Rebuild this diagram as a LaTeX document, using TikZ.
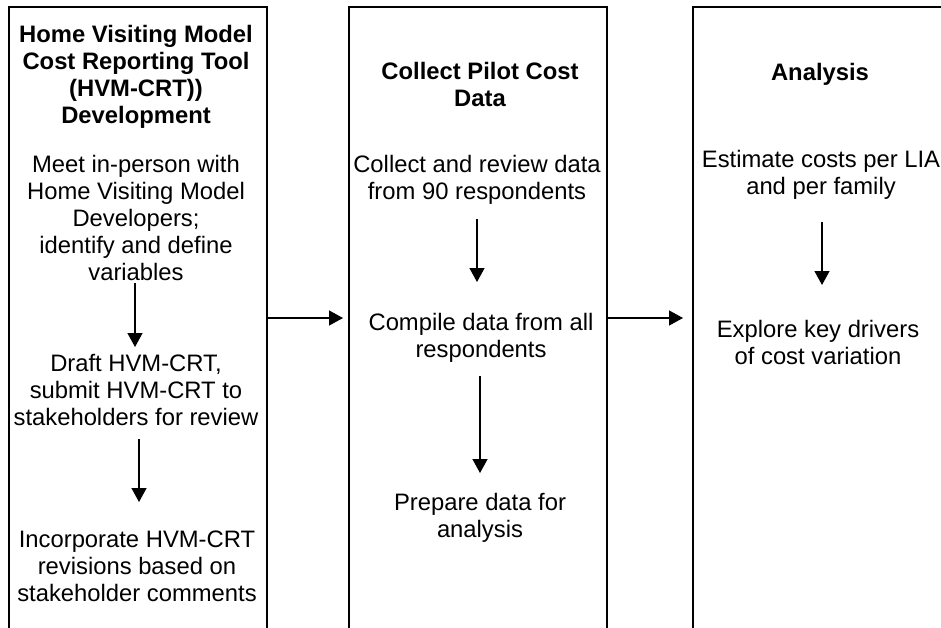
\documentclass[tikz,border=0pt]{standalone}
\usepackage{fontspec}
\setmainfont{Liberation Sans}
\usetikzlibrary{arrows.meta}
\newcommand{\blk}[1]{\begin{tabular}[t]{@{}c@{}}#1\end{tabular}}
\tikzset{
  boxline/.style={draw=black, line width=2.2pt, fill=none, inner sep=0pt, outer sep=0pt, anchor=north west, minimum height=660pt},
  txt/.style={anchor=base, inner sep=0pt, font=\fontsize{23.8pt}{27pt}\selectfont},
  ttl/.style={txt, font=\fontsize{23.8pt}{27pt}\selectfont\bfseries},
  arr/.style={line width=1.3pt, -{Triangle[length=14pt,width=15pt]}}
}
\begin{document}
\begin{tikzpicture}[x=1pt,y=-1pt]
\useasboundingbox (0,0) rectangle (941,627);
\clip (0,0) rectangle (941,627);
\fill[white] (0,0) rectangle (941,627);
% boxes
\node[boxline, minimum width=258pt] (boxL) at (9,7) {};
\node[boxline, minimum width=258pt] (boxM) at (349,7) {};
\node[boxline, minimum width=300pt] (boxR) at (693,7) {};
% left column
\node[ttl] (tL) at (136,42) {\blk{Home Visiting Model\\Cost Reporting Tool\\(HVM-CRT))\\Development}};
\node[txt] (l1) at (136,172) {\blk{Meet in-person with\\Home Visiting Model\\Developers;\\identify and define\\variables}};
\node[txt] (l2) at (136,371) {\blk{Draft HVM-CRT,\\submit HVM-CRT to\\stakeholders for review}};
\node[txt] (l3) at (137,547) {\blk{Incorporate HVM-CRT\\revisions based on\\stakeholder comments}};
% middle column
\node[ttl] (tM) at (480,79) {\blk{Collect Pilot Cost\\Data}};
\node[txt] (m1) at (477,172) {\blk{Collect and review data\\from 90 respondents}};
\node[txt] (m2) at (481,330) {\blk{Compile data from all\\respondents}};
\node[txt] (m3) at (480,510) {\blk{Prepare data for\\analysis}};
% right column
\node[ttl] (tR) at (820,80) {\blk{Analysis}};
\node[txt] (r1) at (821,167) {\blk{Estimate costs per LIA\\and per family}};
\node[txt] (r2) at (818,337) {\blk{Explore key drivers\\of cost variation}};
% arrow end points
\coordinate (l1a) at (135,283); \coordinate (l2a) at (135,347);
\coordinate (l2b) at (139,439); \coordinate (l3b) at (139,502);
\coordinate (m1a) at (477,219); \coordinate (m2a) at (477,282);
\coordinate (m2b) at (480,376); \coordinate (m3b) at (480,473);
\coordinate (r1a) at (822,222); \coordinate (r2a) at (822,285);
\coordinate (hLM) at (343,318); \coordinate (hMR) at (683,318);
% arrows
\draw[arr] (l1a) -- (l2a);
\draw[arr] (l2b) -- (l3b);
\draw[arr] (m1a) -- (m2a);
\draw[arr] (m2b) -- (m3b);
\draw[arr] (r1a) -- (r2a);
\draw[arr] (boxL.east |- hLM) -- (hLM);
\draw[arr] (boxM.east |- hMR) -- (hMR);
\end{tikzpicture}
\end{document}
